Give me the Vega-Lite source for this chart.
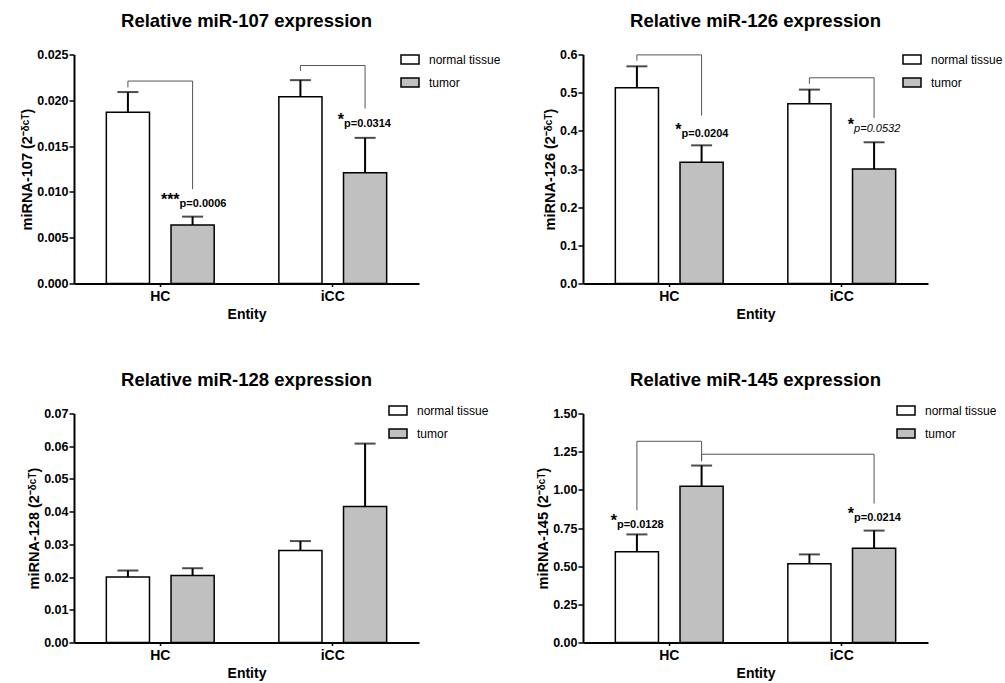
{
  "$schema": "https://vega.github.io/schema/vega-lite/v6.json",
  "padding": {"left": 19, "top": 11.5, "right": 0, "bottom": 0},
  "background": "white",
  "config": {
    "font": "Liberation Sans",
    "view": {"stroke": null},
    "title": {"fontSize": 18.5, "fontWeight": "bold", "color": "black", "anchor": "middle", "frame": "group", "font": "Liberation Sans"},
    "axis": {"labelFont": "Liberation Sans", "titleFont": "Liberation Sans", "labelFontWeight": "bold", "titleFontWeight": "bold", "labelColor": "black", "titleColor": "black", "domainColor": "black", "domainWidth": 2, "tickColor": "black", "tickWidth": 1.5, "grid": false},
    "axisX": {"labelFontSize": 14, "titleFontSize": 14, "labelAngle": 0, "tickSize": 3, "labelPadding": 3, "titlePadding": 4},
    "axisY": {"labelFontSize": 12.5, "titleFontSize": 14.5, "tickSize": 5, "labelPadding": 1, "titlePadding": 2},
    "legend": {"labelFont": "Liberation Sans", "labelFontSize": 12, "labelColor": "black", "rowPadding": 5, "labelOffset": 9, "padding": 0}
  },
  "datasets": {
    "bars107": [
      {"Entity": "HC", "group": "normal tissue", "mean": 0.0187, "upper": 0.0209},
      {"Entity": "HC", "group": "tumor", "mean": 0.0064, "upper": 0.0073},
      {"Entity": "iCC", "group": "normal tissue", "mean": 0.0204, "upper": 0.0222},
      {"Entity": "iCC", "group": "tumor", "mean": 0.0121, "upper": 0.0159}
    ],
    "br107": [
      {"id": "a", "ord": 1, "Entity": "HC", "group": "normal tissue", "y": 0.0214},
      {"id": "a", "ord": 2, "Entity": "HC", "group": "normal tissue", "y": 0.0221},
      {"id": "a", "ord": 3, "Entity": "HC", "group": "tumor", "y": 0.0221},
      {"id": "a", "ord": 4, "Entity": "HC", "group": "tumor", "y": 0.0103},
      {"id": "b", "ord": 1, "Entity": "iCC", "group": "normal tissue", "y": 0.0232},
      {"id": "b", "ord": 2, "Entity": "iCC", "group": "normal tissue", "y": 0.0238},
      {"id": "b", "ord": 3, "Entity": "iCC", "group": "tumor", "y": 0.0238},
      {"id": "b", "ord": 4, "Entity": "iCC", "group": "tumor", "y": 0.0191}
    ],
    "an107": [
      {"Entity": "HC", "group": "tumor", "y": 0.0084, "star": "***", "p": "p=0.0006"},
      {"Entity": "iCC", "group": "tumor", "y": 0.0171, "star": "*", "p": "p=0.0314"}
    ],
    "bars126": [
      {"Entity": "HC", "group": "normal tissue", "mean": 0.513, "upper": 0.569},
      {"Entity": "HC", "group": "tumor", "mean": 0.318, "upper": 0.362},
      {"Entity": "iCC", "group": "normal tissue", "mean": 0.471, "upper": 0.508},
      {"Entity": "iCC", "group": "tumor", "mean": 0.300, "upper": 0.370}
    ],
    "br126": [
      {"id": "a", "ord": 1, "Entity": "HC", "group": "normal tissue", "y": 0.584},
      {"id": "a", "ord": 2, "Entity": "HC", "group": "normal tissue", "y": 0.599},
      {"id": "a", "ord": 3, "Entity": "HC", "group": "tumor", "y": 0.599},
      {"id": "a", "ord": 4, "Entity": "HC", "group": "tumor", "y": 0.440},
      {"id": "b", "ord": 1, "Entity": "iCC", "group": "normal tissue", "y": 0.523},
      {"id": "b", "ord": 2, "Entity": "iCC", "group": "normal tissue", "y": 0.539},
      {"id": "b", "ord": 3, "Entity": "iCC", "group": "tumor", "y": 0.539},
      {"id": "b", "ord": 4, "Entity": "iCC", "group": "tumor", "y": 0.434}
    ],
    "an126": [
      {"Entity": "HC", "group": "tumor", "y": 0.385, "star": "*", "p": "p=0.0204"},
      {"Entity": "iCC", "group": "tumor", "y": 0.396, "star": "*", "p": "p=0.0532"}
    ],
    "bars128": [
      {"Entity": "HC", "group": "normal tissue", "mean": 0.0200, "upper": 0.0220},
      {"Entity": "HC", "group": "tumor", "mean": 0.0205, "upper": 0.0227},
      {"Entity": "iCC", "group": "normal tissue", "mean": 0.0281, "upper": 0.0310},
      {"Entity": "iCC", "group": "tumor", "mean": 0.0416, "upper": 0.0608}
    ],
    "bars145": [
      {"Entity": "HC", "group": "normal tissue", "mean": 0.595, "upper": 0.708},
      {"Entity": "HC", "group": "tumor", "mean": 1.023, "upper": 1.159},
      {"Entity": "iCC", "group": "normal tissue", "mean": 0.516, "upper": 0.577},
      {"Entity": "iCC", "group": "tumor", "mean": 0.617, "upper": 0.733}
    ],
    "br145": [
      {"id": "a", "ord": 1, "Entity": "HC", "group": "normal tissue", "y": 0.866},
      {"id": "a", "ord": 2, "Entity": "HC", "group": "normal tissue", "y": 1.318},
      {"id": "a", "ord": 3, "Entity": "HC", "group": "tumor", "y": 1.318},
      {"id": "a", "ord": 4, "Entity": "HC", "group": "tumor", "y": 1.187},
      {"id": "b", "ord": 1, "Entity": "HC", "group": "tumor", "y": 1.194},
      {"id": "b", "ord": 2, "Entity": "HC", "group": "tumor", "y": 1.233},
      {"id": "b", "ord": 3, "Entity": "iCC", "group": "tumor", "y": 1.233},
      {"id": "b", "ord": 4, "Entity": "iCC", "group": "tumor", "y": 0.910}
    ],
    "an145": [
      {"Entity": "HC", "group": "normal tissue", "y": 0.750, "star": "*", "p": "p=0.0128"},
      {"Entity": "iCC", "group": "tumor", "y": 0.796, "star": "*", "p": "p=0.0214"}
    ]
  },
  "columns": 2,
  "spacing": {"row": 130, "column": 164},
  "bounds": "flush",
  "resolve": {"legend": {"fill": "independent"}},
  "concat": [
    {
      "title": {"text": "Relative miR-107 expression", "offset": 18.5},
      "width": 345, "height": 229,
      "layer": [
        {"data": {"name": "bars107"}, "mark": {"type": "bar", "stroke": "black", "strokeWidth": 1.5},
         "encoding": {
           "x": {"field": "Entity", "type": "nominal", "scale": {"paddingInner": 0, "paddingOuter": 0}, "axis": {"title": "Entity"}},
           "xOffset": {"field": "group", "type": "nominal", "scale": {"domain": ["normal tissue", "tumor"], "paddingInner": 0.333, "paddingOuter": 0.5}},
           "y": {"field": "mean", "type": "quantitative", "scale": {"domain": [0, 0.025], "nice": false}, "axis": {"title": "miRNA-107 (2⁻ᵟᶜᵀ)", "values": [0, 0.005, 0.01, 0.015, 0.02, 0.025], "format": ".3f"}},
           "fill": {"field": "group", "type": "nominal", "scale": {"domain": ["normal tissue", "tumor"], "range": ["white", "#c0c0c0"]}, "legend": {"title": null, "orient": "none", "legendX": 326, "legendY": -5, "symbolType": "M-1,-0.5H1V0.5H-1Z", "symbolSize": 324, "symbolStrokeColor": "black", "symbolStrokeWidth": 1.5}}
         }},
        {"data": {"name": "bars107"}, "mark": {"type": "rule", "color": "black", "strokeWidth": 2},
         "encoding": {"x": {"field": "Entity", "type": "nominal"}, "xOffset": {"field": "group", "type": "nominal"}, "y": {"field": "mean", "type": "quantitative", "axis": {"title": "miRNA-107 (2⁻ᵟᶜᵀ)", "values": [0, 0.005, 0.01, 0.015, 0.02, 0.025], "format": ".3f"}}, "y2": {"field": "upper"}}},
        {"data": {"name": "bars107"}, "mark": {"type": "tick", "color": "black", "thickness": 2, "size": 21},
         "encoding": {"x": {"field": "Entity", "type": "nominal"}, "xOffset": {"field": "group", "type": "nominal"}, "y": {"field": "upper", "type": "quantitative", "axis": {"title": "miRNA-107 (2⁻ᵟᶜᵀ)", "values": [0, 0.005, 0.01, 0.015, 0.02, 0.025], "format": ".3f"}}}},
        {"data": {"name": "br107"}, "mark": {"type": "line", "color": "#555555", "strokeWidth": 1},
         "encoding": {"x": {"field": "Entity", "type": "nominal"}, "xOffset": {"field": "group", "type": "nominal"}, "y": {"field": "y", "type": "quantitative", "axis": {"title": "miRNA-107 (2⁻ᵟᶜᵀ)", "values": [0, 0.005, 0.01, 0.015, 0.02, 0.025], "format": ".3f"}}, "detail": {"field": "id"}, "order": {"field": "ord", "type": "quantitative"}}},
        {"data": {"name": "an107"}, "transform": [{"filter": "datum.Entity === 'HC'"}], "mark": {"type": "text", "fontSize": 16, "fontWeight": "bold", "align": "right", "baseline": "alphabetic", "dx": -13, "dy": -2, "color": "black"},
         "encoding": {"x": {"field": "Entity", "type": "nominal"}, "xOffset": {"field": "group", "type": "nominal"}, "y": {"field": "y", "type": "quantitative", "axis": {"title": "miRNA-107 (2⁻ᵟᶜᵀ)", "values": [0, 0.005, 0.01, 0.015, 0.02, 0.025], "format": ".3f"}}, "text": {"field": "star"}}},
        {"data": {"name": "an107"}, "transform": [{"filter": "datum.Entity === 'HC'"}], "mark": {"type": "text", "fontSize": 11, "fontWeight": "bold", "align": "left", "baseline": "alphabetic", "dx": -13, "color": "black"},
         "encoding": {"x": {"field": "Entity", "type": "nominal"}, "xOffset": {"field": "group", "type": "nominal"}, "y": {"field": "y", "type": "quantitative", "axis": {"title": "miRNA-107 (2⁻ᵟᶜᵀ)", "values": [0, 0.005, 0.01, 0.015, 0.02, 0.025], "format": ".3f"}}, "text": {"field": "p"}}},
        {"data": {"name": "an107"}, "transform": [{"filter": "datum.Entity === 'iCC'"}], "mark": {"type": "text", "fontSize": 16, "fontWeight": "bold", "align": "right", "baseline": "alphabetic", "dx": -21, "dy": -2, "color": "black"},
         "encoding": {"x": {"field": "Entity", "type": "nominal"}, "xOffset": {"field": "group", "type": "nominal"}, "y": {"field": "y", "type": "quantitative", "axis": {"title": "miRNA-107 (2⁻ᵟᶜᵀ)", "values": [0, 0.005, 0.01, 0.015, 0.02, 0.025], "format": ".3f"}}, "text": {"field": "star"}}},
        {"data": {"name": "an107"}, "transform": [{"filter": "datum.Entity === 'iCC'"}], "mark": {"type": "text", "fontSize": 11, "fontWeight": "bold", "align": "left", "baseline": "alphabetic", "dx": -21, "color": "black"},
         "encoding": {"x": {"field": "Entity", "type": "nominal"}, "xOffset": {"field": "group", "type": "nominal"}, "y": {"field": "y", "type": "quantitative", "axis": {"title": "miRNA-107 (2⁻ᵟᶜᵀ)", "values": [0, 0.005, 0.01, 0.015, 0.02, 0.025], "format": ".3f"}}, "text": {"field": "p"}}}
      ]
    },
    {
      "title": {"text": "Relative miR-126 expression", "offset": 18.5},
      "width": 345, "height": 229,
      "layer": [
        {"data": {"name": "bars126"}, "mark": {"type": "bar", "stroke": "black", "strokeWidth": 1.5},
         "encoding": {
           "x": {"field": "Entity", "type": "nominal", "scale": {"paddingInner": 0, "paddingOuter": 0}, "axis": {"title": "Entity"}},
           "xOffset": {"field": "group", "type": "nominal", "scale": {"domain": ["normal tissue", "tumor"], "paddingInner": 0.333, "paddingOuter": 0.5}},
           "y": {"field": "mean", "type": "quantitative", "scale": {"domain": [0, 0.6], "nice": false}, "axis": {"title": "miRNA-126 (2⁻ᵟᶜᵀ)", "values": [0, 0.1, 0.2, 0.3, 0.4, 0.5, 0.6], "format": ".1f"}},
           "fill": {"field": "group", "type": "nominal", "scale": {"domain": ["normal tissue", "tumor"], "range": ["white", "#c0c0c0"]}, "legend": {"title": null, "orient": "none", "legendX": 319, "legendY": -5, "symbolType": "M-1,-0.5H1V0.5H-1Z", "symbolSize": 324, "symbolStrokeColor": "black", "symbolStrokeWidth": 1.5}}
         }},
        {"data": {"name": "bars126"}, "mark": {"type": "rule", "color": "black", "strokeWidth": 2},
         "encoding": {"x": {"field": "Entity", "type": "nominal"}, "xOffset": {"field": "group", "type": "nominal"}, "y": {"field": "mean", "type": "quantitative", "axis": {"title": "miRNA-126 (2⁻ᵟᶜᵀ)", "values": [0, 0.1, 0.2, 0.3, 0.4, 0.5, 0.6], "format": ".1f"}}, "y2": {"field": "upper"}}},
        {"data": {"name": "bars126"}, "mark": {"type": "tick", "color": "black", "thickness": 2, "size": 21},
         "encoding": {"x": {"field": "Entity", "type": "nominal"}, "xOffset": {"field": "group", "type": "nominal"}, "y": {"field": "upper", "type": "quantitative", "axis": {"title": "miRNA-126 (2⁻ᵟᶜᵀ)", "values": [0, 0.1, 0.2, 0.3, 0.4, 0.5, 0.6], "format": ".1f"}}}},
        {"data": {"name": "br126"}, "mark": {"type": "line", "color": "#555555", "strokeWidth": 1},
         "encoding": {"x": {"field": "Entity", "type": "nominal"}, "xOffset": {"field": "group", "type": "nominal"}, "y": {"field": "y", "type": "quantitative", "axis": {"title": "miRNA-126 (2⁻ᵟᶜᵀ)", "values": [0, 0.1, 0.2, 0.3, 0.4, 0.5, 0.6], "format": ".1f"}}, "detail": {"field": "id"}, "order": {"field": "ord", "type": "quantitative"}}},
        {"data": {"name": "an126"}, "mark": {"type": "text", "fontSize": 16, "fontWeight": "bold", "align": "right", "baseline": "alphabetic", "dx": -20, "dy": -2, "color": "black"},
         "encoding": {"x": {"field": "Entity", "type": "nominal"}, "xOffset": {"field": "group", "type": "nominal"}, "y": {"field": "y", "type": "quantitative", "axis": {"title": "miRNA-126 (2⁻ᵟᶜᵀ)", "values": [0, 0.1, 0.2, 0.3, 0.4, 0.5, 0.6], "format": ".1f"}}, "text": {"field": "star"}}},
        {"data": {"name": "an126"}, "transform": [{"filter": "datum.Entity === 'HC'"}], "mark": {"type": "text", "fontSize": 11, "fontWeight": "bold", "align": "left", "baseline": "alphabetic", "dx": -20, "color": "black"},
         "encoding": {"x": {"field": "Entity", "type": "nominal"}, "xOffset": {"field": "group", "type": "nominal"}, "y": {"field": "y", "type": "quantitative", "axis": {"title": "miRNA-126 (2⁻ᵟᶜᵀ)", "values": [0, 0.1, 0.2, 0.3, 0.4, 0.5, 0.6], "format": ".1f"}}, "text": {"field": "p"}}},
        {"data": {"name": "an126"}, "transform": [{"filter": "datum.Entity === 'iCC'"}], "mark": {"type": "text", "fontSize": 11, "fontWeight": "normal", "fontStyle": "italic", "align": "left", "baseline": "alphabetic", "dx": -20, "color": "black"},
         "encoding": {"x": {"field": "Entity", "type": "nominal"}, "xOffset": {"field": "group", "type": "nominal"}, "y": {"field": "y", "type": "quantitative", "axis": {"title": "miRNA-126 (2⁻ᵟᶜᵀ)", "values": [0, 0.1, 0.2, 0.3, 0.4, 0.5, 0.6], "format": ".1f"}}, "text": {"field": "p"}}}
      ]
    },
    {
      "title": {"text": "Relative miR-128 expression", "offset": 11},
      "width": 345, "height": 229,
      "layer": [
        {"data": {"name": "bars128"}, "mark": {"type": "bar", "stroke": "black", "strokeWidth": 1.5},
         "encoding": {
           "x": {"field": "Entity", "type": "nominal", "scale": {"paddingInner": 0, "paddingOuter": 0}, "axis": {"title": "Entity"}},
           "xOffset": {"field": "group", "type": "nominal", "scale": {"domain": ["normal tissue", "tumor"], "paddingInner": 0.333, "paddingOuter": 0.5}},
           "y": {"field": "mean", "type": "quantitative", "scale": {"domain": [0, 0.07], "nice": false}, "axis": {"title": "miRNA-128 (2⁻ᵟᶜᵀ)", "values": [0, 0.01, 0.02, 0.03, 0.04, 0.05, 0.06, 0.07], "format": ".2f"}},
           "fill": {"field": "group", "type": "nominal", "scale": {"domain": ["normal tissue", "tumor"], "range": ["white", "#c0c0c0"]}, "legend": {"title": null, "orient": "none", "legendX": 314, "legendY": -13, "symbolType": "M-1,-0.5H1V0.5H-1Z", "symbolSize": 324, "symbolStrokeColor": "black", "symbolStrokeWidth": 1.5}}
         }},
        {"data": {"name": "bars128"}, "mark": {"type": "rule", "color": "black", "strokeWidth": 2},
         "encoding": {"x": {"field": "Entity", "type": "nominal"}, "xOffset": {"field": "group", "type": "nominal"}, "y": {"field": "mean", "type": "quantitative", "axis": {"title": "miRNA-128 (2⁻ᵟᶜᵀ)", "values": [0, 0.01, 0.02, 0.03, 0.04, 0.05, 0.06, 0.07], "format": ".2f"}}, "y2": {"field": "upper"}}},
        {"data": {"name": "bars128"}, "mark": {"type": "tick", "color": "black", "thickness": 2, "size": 21},
         "encoding": {"x": {"field": "Entity", "type": "nominal"}, "xOffset": {"field": "group", "type": "nominal"}, "y": {"field": "upper", "type": "quantitative", "axis": {"title": "miRNA-128 (2⁻ᵟᶜᵀ)", "values": [0, 0.01, 0.02, 0.03, 0.04, 0.05, 0.06, 0.07], "format": ".2f"}}}}
      ]
    },
    {
      "title": {"text": "Relative miR-145 expression", "offset": 11},
      "width": 345, "height": 229,
      "layer": [
        {"data": {"name": "bars145"}, "mark": {"type": "bar", "stroke": "black", "strokeWidth": 1.5},
         "encoding": {
           "x": {"field": "Entity", "type": "nominal", "scale": {"paddingInner": 0, "paddingOuter": 0}, "axis": {"title": "Entity"}},
           "xOffset": {"field": "group", "type": "nominal", "scale": {"domain": ["normal tissue", "tumor"], "paddingInner": 0.333, "paddingOuter": 0.5}},
           "y": {"field": "mean", "type": "quantitative", "scale": {"domain": [0, 1.5], "nice": false}, "axis": {"title": "miRNA-145 (2⁻ᵟᶜᵀ)", "values": [0, 0.25, 0.5, 0.75, 1.0, 1.25, 1.5], "format": ".2f"}},
           "fill": {"field": "group", "type": "nominal", "scale": {"domain": ["normal tissue", "tumor"], "range": ["white", "#c0c0c0"]}, "legend": {"title": null, "orient": "none", "legendX": 313, "legendY": -13, "symbolType": "M-1,-0.5H1V0.5H-1Z", "symbolSize": 324, "symbolStrokeColor": "black", "symbolStrokeWidth": 1.5}}
         }},
        {"data": {"name": "bars145"}, "mark": {"type": "rule", "color": "black", "strokeWidth": 2},
         "encoding": {"x": {"field": "Entity", "type": "nominal"}, "xOffset": {"field": "group", "type": "nominal"}, "y": {"field": "mean", "type": "quantitative", "axis": {"title": "miRNA-145 (2⁻ᵟᶜᵀ)", "values": [0, 0.25, 0.5, 0.75, 1.0, 1.25, 1.5], "format": ".2f"}}, "y2": {"field": "upper"}}},
        {"data": {"name": "bars145"}, "mark": {"type": "tick", "color": "black", "thickness": 2, "size": 21},
         "encoding": {"x": {"field": "Entity", "type": "nominal"}, "xOffset": {"field": "group", "type": "nominal"}, "y": {"field": "upper", "type": "quantitative", "axis": {"title": "miRNA-145 (2⁻ᵟᶜᵀ)", "values": [0, 0.25, 0.5, 0.75, 1.0, 1.25, 1.5], "format": ".2f"}}}},
        {"data": {"name": "br145"}, "mark": {"type": "line", "color": "#555555", "strokeWidth": 1},
         "encoding": {"x": {"field": "Entity", "type": "nominal"}, "xOffset": {"field": "group", "type": "nominal"}, "y": {"field": "y", "type": "quantitative", "axis": {"title": "miRNA-145 (2⁻ᵟᶜᵀ)", "values": [0, 0.25, 0.5, 0.75, 1.0, 1.25, 1.5], "format": ".2f"}}, "detail": {"field": "id"}, "order": {"field": "ord", "type": "quantitative"}}},
        {"data": {"name": "an145"}, "mark": {"type": "text", "fontSize": 16, "fontWeight": "bold", "align": "right", "baseline": "alphabetic", "dx": -20, "dy": -2, "color": "black"},
         "encoding": {"x": {"field": "Entity", "type": "nominal"}, "xOffset": {"field": "group", "type": "nominal"}, "y": {"field": "y", "type": "quantitative", "axis": {"title": "miRNA-145 (2⁻ᵟᶜᵀ)", "values": [0, 0.25, 0.5, 0.75, 1.0, 1.25, 1.5], "format": ".2f"}}, "text": {"field": "star"}}},
        {"data": {"name": "an145"}, "mark": {"type": "text", "fontSize": 11, "fontWeight": "bold", "align": "left", "baseline": "alphabetic", "dx": -20, "color": "black"},
         "encoding": {"x": {"field": "Entity", "type": "nominal"}, "xOffset": {"field": "group", "type": "nominal"}, "y": {"field": "y", "type": "quantitative", "axis": {"title": "miRNA-145 (2⁻ᵟᶜᵀ)", "values": [0, 0.25, 0.5, 0.75, 1.0, 1.25, 1.5], "format": ".2f"}}, "text": {"field": "p"}}}
      ]
    }
  ]
}
